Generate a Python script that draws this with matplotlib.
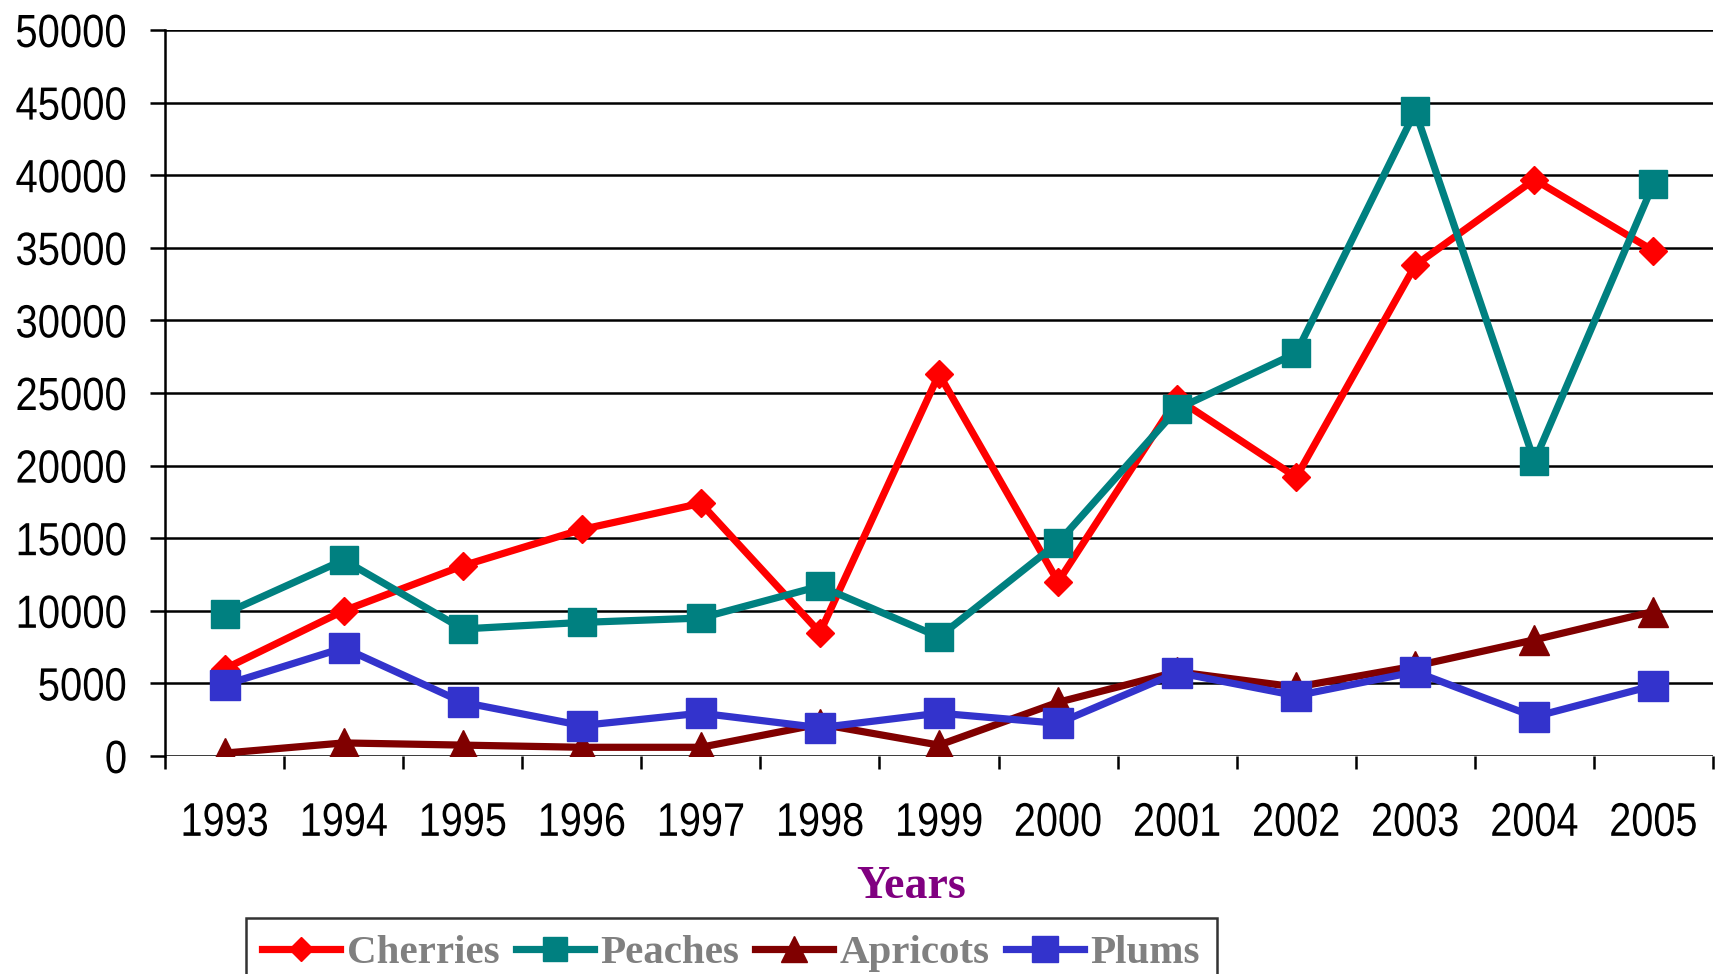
import matplotlib
matplotlib.use('Agg')
import matplotlib.pyplot as plt
import matplotlib.patheffects as pe
from matplotlib.transforms import Affine2D
import numpy as np

years = ['1993', '1994', '1995', '1996', '1997', '1998', '1999',
         '2000', '2001', '2002', '2003', '2004', '2005']
cherries = [6000, 10000, 13100, 15600, 17400, 8500, 26300,
            12000, 24600, 19200, 33800, 39700, 34800]
peaches = [9800, 13500, 8750, 9200, 9500, 11700, 8200,
           14700, 23900, 27750, 44400, 20300, 39400]
apricots = [200, 900, 750, 600, 600, 2200, 750,
            3700, 5800, 4750, 6200, 8000, 9950]
plums = [4900, 7450, 3700, 2100, 2950, 1950, 2950,
         2250, 5750, 4150, 5800, 2700, 4850]


# squeeze text horizontally (the original uses a narrow sans font)
class SqueezeX(pe.AbstractPathEffect):
    def __init__(self, sx, anchor='center'):
        super().__init__()
        self.sx = sx
        self.anchor = anchor

    def draw_path(self, renderer, gc, tpath, affine, rgbFace=None):
        ext = tpath.get_extents(affine)
        if self.anchor == 'right':
            x0 = ext.x1
        else:
            x0 = (ext.x0 + ext.x1) / 2
        t = affine + Affine2D().translate(-x0, 0).scale(self.sx, 1).translate(x0, 0)
        renderer.draw_path(gc, tpath, t, rgbFace)


W, H = 1718, 974
sans = ['Liberation Sans', 'DejaVu Sans']
serif = ['Liberation Serif', 'DejaVu Serif']

fig = plt.figure(figsize=(W / 100, H / 100), dpi=100)
ax = fig.add_axes([165 / W, (H - 756) / H, (1713 - 165) / W, (756 - 30) / H])

x = np.arange(len(years))
lw = 5.2
ax.plot(x, cherries, color='#FF0000', lw=lw, marker='D', ms=14, label='Cherries', zorder=3)
ax.plot(x, peaches, color='#008080', lw=lw, marker='s', ms=19.5, label='Peaches', zorder=4)
ax.plot(x, apricots, color='#800000', lw=lw, marker='^', ms=21, label='Apricots', zorder=5)
ax.plot(x, plums, color='#3333CC', lw=lw, marker='s', ms=21.5, label='Plums', zorder=6)

ax.set_xlim(-0.5, len(years) - 0.5)
ax.set_ylim(0, 50000)
ax.set_yticks(np.arange(0, 50001, 5000))
ax.set_yticklabels([str(v) for v in range(0, 50001, 5000)], family=sans, fontsize=33.5)
ax.yaxis.grid(True, color='black', lw=1.8, zorder=1)
ax.tick_params(axis='y', length=11, width=1.8, direction='out', pad=16)
for t in ax.get_yticklabels():
    t.set_path_effects([SqueezeX(0.86, 'right')])

ax.set_xticks(np.arange(-0.5, len(years), 1.0))
ax.set_xticklabels([])
ax.set_xticks(x, minor=True)
ax.set_xticklabels(years, minor=True, family=sans, fontsize=34)
ax.tick_params(axis='x', which='major', length=9, width=1.8, direction='out')
ax.tick_params(axis='x', which='minor', length=0, pad=33)
for t in ax.get_xticklabels(minor=True):
    t.set_path_effects([SqueezeX(0.84, 'center')])

for s in ['top', 'right', 'bottom']:
    ax.spines[s].set_visible(False)
ax.spines['left'].set_linewidth(1.8)
ax.set_axisbelow(True)

fig.text(911 / W, 1 - 887 / H, 'Years', ha='center', va='center',
         family=serif, fontweight='bold', fontsize=33, color='#800080')

leg = fig.legend(loc='upper left', bbox_to_anchor=(246 / W, 1 - 918 / H), ncol=4,
                 prop={'family': serif, 'weight': 'bold', 'size': 29.5},
                 handlelength=1.9, handletextpad=0.16, columnspacing=0.4,
                 borderpad=0.4, borderaxespad=0, frameon=True, fancybox=False,
                 markerscale=0.9)
leg.get_frame().set_edgecolor('black')
leg.get_frame().set_linewidth(1.8)
for t in leg.get_texts():
    t.set_color('#808080')

fig.savefig('out.png', dpi=100)
